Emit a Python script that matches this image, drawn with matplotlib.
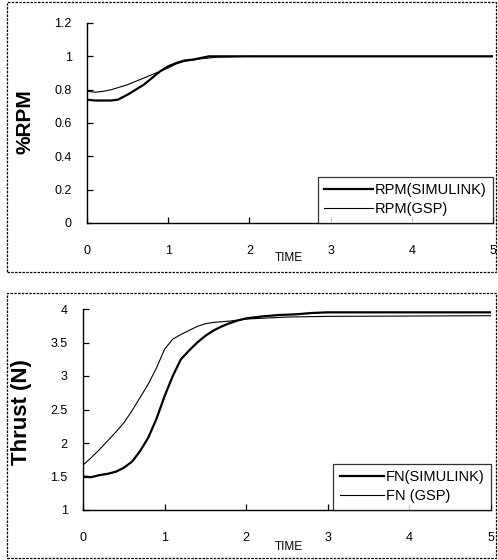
import numpy as np
import matplotlib
matplotlib.use("Agg")
import matplotlib.pyplot as plt
from matplotlib.patches import Rectangle

plt.rcParams['font.family'] = ['Liberation Sans', 'DejaVu Sans']

# engine speed response (fraction of design rpm)
t_rpm_sim = [0, 0.1, 0.2, 0.3, 0.38, 0.5, 0.6, 0.7, 0.8, 0.9, 1.0, 1.1, 1.2, 1.3, 1.4, 1.5, 1.7, 2.0, 2.1, 5.0]
rpm_sim = [0.74, 0.735, 0.735, 0.735, 0.74, 0.77, 0.80, 0.83, 0.87, 0.91, 0.94, 0.96, 0.975, 0.98, 0.99, 1.0, 1.0, 1.0, 1.0, 1.0]

t_rpm_gsp = [0, 0.1, 0.2, 0.3, 0.4, 0.5, 0.6, 0.7, 0.8, 0.9, 1.0, 1.1, 1.2, 1.4, 1.6, 2.0, 5.0]
rpm_gsp = [0.79, 0.785, 0.79, 0.80, 0.815, 0.83, 0.85, 0.87, 0.89, 0.91, 0.93, 0.955, 0.97, 0.985, 0.995, 1.0, 1.0]

# thrust response
t_fn_sim = [0, 0.1, 0.2, 0.3, 0.4, 0.5, 0.6, 0.7, 0.8, 0.9, 1.0, 1.1, 1.2, 1.3, 1.4, 1.5, 1.6, 1.7,
            1.8, 1.9, 2.0, 2.2, 2.4, 2.6, 2.8, 3.0, 5.0]
fn_sim = [1.50, 1.49, 1.52, 1.54, 1.57, 1.63, 1.72, 1.88, 2.08, 2.36, 2.70, 3.0, 3.25, 3.38, 3.50, 3.60,
          3.68, 3.74, 3.79, 3.83, 3.86, 3.89, 3.91, 3.92, 3.94, 3.95, 3.95]

t_fn_gsp = [0, 0.1, 0.2, 0.3, 0.4, 0.5, 0.6, 0.7, 0.8, 0.9, 1.0, 1.1, 1.2, 1.3, 1.4, 1.5, 1.6, 1.8,
            2.0, 2.5, 3.0, 5.0]
fn_gsp = [1.67, 1.78, 1.90, 2.03, 2.16, 2.30, 2.48, 2.68, 2.88, 3.12, 3.40, 3.55, 3.62, 3.68, 3.74, 3.78,
          3.80, 3.82, 3.85, 3.88, 3.89, 3.90]

x_ticks = [0, 1, 2, 3, 4, 5]
rpm_ticks = [0, 0.2, 0.4, 0.6, 0.8, 1.0, 1.2]
rpm_tick_labels = ['0', '0.2', '0.4', '0.6', '0.8', '1', '1.2']
fn_ticks = [1, 1.5, 2, 2.5, 3, 3.5, 4]
fn_tick_labels = ['1', '1.5', '2', '2.5', '3', '3.5', '4']

W, H = 498, 560
fig = plt.figure(figsize=(W / 100, H / 100), dpi=100)


def px_box(x0, y0, x1, y1):
    # pixel box (top-left origin) -> figure fraction rect
    return [x0 / W, 1 - y1 / H, (x1 - x0) / W, (y1 - y0) / H]


# dotted frames around each panel
for (x0, y0, x1, y1) in [(7, 2, 496, 272), (7, 293, 496, 558)]:
    fig.patches.append(Rectangle((x0 / W, 1 - y1 / H), (x1 - x0) / W, (y1 - y0) / H,
                                 transform=fig.transFigure, fill=False, ec='black',
                                 lw=0.9, ls=(0, (2, 1))))

ax1 = fig.add_axes(px_box(87, 23, 493, 223))
ax2 = fig.add_axes(px_box(83, 309, 491, 510))


def style(ax, yt, ytl, ylim):
    ax.set_xlim(0, 5)
    ax.set_ylim(*ylim)
    ax.set_xticks(x_ticks)
    ax.set_xticklabels([str(v) for v in x_ticks])
    ax.set_yticks(yt)
    ax.set_yticklabels(ytl)
    for s in ['top', 'right']:
        ax.spines[s].set_visible(False)
    for s in ['left', 'bottom']:
        ax.spines[s].set_linewidth(1.0)
    ax.tick_params(axis='x', direction='in', length=4, width=0.9, pad=16, labelsize=9)
    ax.tick_params(axis='y', direction='in', length=4, width=0.9, pad=11, labelsize=9)


def add_legend(ax, hl):
    leg = ax.legend(loc='lower right', bbox_to_anchor=(1.0, 0.0), borderaxespad=0,
                    fontsize=10.5, handlelength=hl, frameon=True, fancybox=False,
                    edgecolor='black', labelspacing=0.35, handletextpad=0.15, borderpad=0.45)
    leg.get_frame().set_linewidth(0.9)
    return leg


ax1.plot(t_rpm_sim, rpm_sim, color='black', lw=1.6, label='RPM(SIMULINK)')
ax1.plot(t_rpm_gsp, rpm_gsp, color='black', lw=0.8, label='RPM(GSP)')
style(ax1, rpm_ticks, rpm_tick_labels, (0, 1.2))
add_legend(ax1, 3.3)

ax2.plot(t_fn_sim, fn_sim, color='black', lw=1.6, label='FN(SIMULINK)')
ax2.plot(t_fn_gsp, fn_gsp, color='black', lw=0.8, label='FN (GSP)')
style(ax2, fn_ticks, fn_tick_labels, (1, 4))
add_legend(ax2, 3.0)

fig.text(25 / W, 1 - 122 / H, '%RPM', rotation=90, ha='center', va='center',
         fontsize=15, fontweight='bold')
fig.text(22 / W, 1 - 412 / H, 'Thrust (N)', rotation=90, ha='center', va='center',
         fontsize=16, fontweight='bold')
fig.text(289 / W, 1 - 258 / H, 'TIME', ha='center', va='center', fontsize=8.5)
fig.text(289 / W, 1 - 547 / H, 'TIME', ha='center', va='center', fontsize=8.5)

fig.savefig('out.png', dpi=100)
